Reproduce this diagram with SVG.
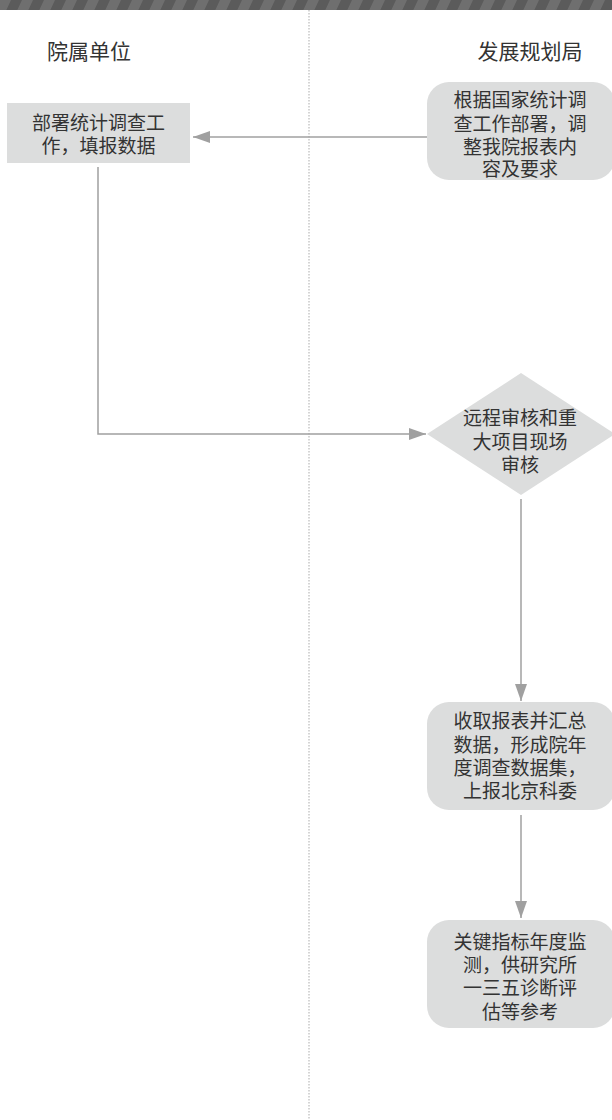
<svg xmlns="http://www.w3.org/2000/svg" width="612" height="1120" viewBox="0 0 612 1120">
<defs>
<style>
.t{font-family:"Noto Sans CJK SC","Noto Sans",sans-serif;font-size:19px;fill:#333;text-anchor:middle}
.h{font-family:"Noto Sans CJK SC","Noto Sans",sans-serif;font-size:21px;fill:#333;text-anchor:middle}
.box{fill:#dcdddd}
.c{fill:none;stroke:#a0a0a0;stroke-width:1.5}
</style>
<pattern id="stripes" width="22" height="10" patternUnits="userSpaceOnUse" patternTransform="skewX(-25)">
<rect width="22" height="10" fill="#5b5b5b"/>
<rect x="0" width="11" height="10" fill="#6f6f6f"/>
</pattern>
<marker id="arr" markerWidth="18" markerHeight="12" refX="17" refY="6" orient="auto" markerUnits="userSpaceOnUse">
<path d="M0,0 L17,6 L0,12 Z" fill="#a0a0a0"/>
</marker>
</defs>
<rect x="0" y="0" width="612" height="10" fill="url(#stripes)"/>
<line x1="309" y1="10" x2="309" y2="1120" stroke="#c8c8c8" stroke-width="1.5" stroke-dasharray="1.5,1.5"/>
<g id="lane-headers">
<text class="h" x="89" y="59">院属单位</text>
<text class="h" x="530" y="59">发展规划局</text>
</g>
<g id="connectors">
<path class="c" d="M427,137 L193,137" marker-end="url(#arr)"/>
<path class="c" d="M98,167 L98,434 L426,434" marker-end="url(#arr)"/>
<path class="c" d="M521,499 L521,701" marker-end="url(#arr)"/>
<path class="c" d="M521,815 L521,918" marker-end="url(#arr)"/>
</g>
<g id="node-fill">
<rect class="box" x="7" y="103" width="183" height="60"/>
<text class="t" x="98.5" y="130">部署统计调查工</text>
<text class="t" x="98.5" y="153">作，填报数据</text>
</g>
<g id="node-adjust">
<rect class="box" x="427" y="82" width="188" height="98" rx="22"/>
<text class="t" x="520" y="107">根据国家统计调</text>
<text class="t" x="520" y="131">查工作部署，调</text>
<text class="t" x="520" y="154">整我院报表内</text>
<text class="t" x="520" y="176">容及要求</text>
</g>
<g id="node-review">
<polygon class="box" points="427,434 521,373 615,434 521,495"/>
<text class="t" x="520" y="425">远程审核和重</text>
<text class="t" x="520" y="449">大项目现场</text>
<text class="t" x="520" y="472">审核</text>
</g>
<g id="node-collect">
<rect class="box" x="427" y="702" width="188" height="108" rx="22"/>
<text class="t" x="520" y="728">收取报表并汇总</text>
<text class="t" x="520" y="752">数据，形成院年</text>
<text class="t" x="520" y="775">度调查数据集，</text>
<text class="t" x="520" y="798">上报北京科委</text>
</g>
<g id="node-monitor">
<rect class="box" x="427" y="920" width="188" height="108" rx="22"/>
<text class="t" x="520" y="949">关键指标年度监</text>
<text class="t" x="520" y="972">测，供研究所</text>
<text class="t" x="520" y="995">一三五诊断评</text>
<text class="t" x="520" y="1019">估等参考</text>
</g>
</svg>
